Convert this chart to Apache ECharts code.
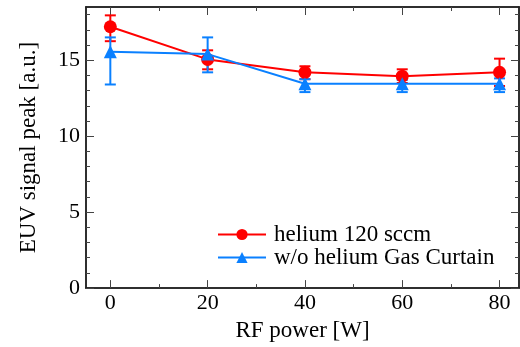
<!DOCTYPE html>
<html>
<head>
<meta charset="utf-8">
<script src="https://cdn.jsdelivr.net/npm/echarts@6/dist/echarts.min.js"></script>
<style>html,body{margin:0;padding:0;background:#fff;}#c{width:520px;height:347px;}</style>
</head>
<body>
<div id="c"></div>
<script>
const rfPower = [0, 20, 40, 60, 80];
const heliumY = [17.2, 15.05, 14.2, 13.95, 14.2];
const heliumLow = [16.25, 14.4, 13.75, 13.5, 13.3];
const heliumHigh = [17.95, 15.65, 14.6, 14.4, 15.1];
const noGasY = [15.55, 15.4, 13.45, 13.45, 13.45];
const noGasLow = [13.4, 14.2, 12.9, 12.9, 12.9];
const noGasHigh = [16.5, 16.5, 13.75, 13.7, 13.8];
const xMajor = [0, 20, 40, 60, 80];
const xMinor = [10, 30, 50, 70];
const yMajor = [0, 5, 10, 15];
const yMinor = [1, 2, 3, 4, 6, 7, 8, 9, 11, 12, 13, 14, 16, 17, 18];
const seriesNames = ['helium 120 sccm', 'w/o helium Gas Curtain'];

const RED = '#ff0000', BLUE = '#0a80ff';
const FONT = '"Liberation Serif", "Times New Roman", serif';
const XMIN = -5, XMAX = 84, YMIN = 0, YMAX = 18.5;

function xAx(pos, vals, len, labels, extra) {
  return Object.assign({
    type: 'value', min: XMIN, max: XMAX, position: pos,
    axisLine: { show: true, onZero: false, lineStyle: { color: '#222', width: 1.5 } },
    axisTick: { show: true, inside: true, length: len, customValues: vals, lineStyle: { color: '#444', width: 1 } },
    axisLabel: labels ? { show: true, customValues: vals, fontFamily: FONT, fontSize: 22, color: '#000', margin: 4 } : { show: false },
    splitLine: { show: false }
  }, extra || {});
}
function yAx(pos, vals, len, labels, extra) {
  return Object.assign({
    type: 'value', min: YMIN, max: YMAX, position: pos,
    axisLine: { show: true, onZero: false, lineStyle: { color: '#222', width: 1.5 } },
    axisTick: { show: true, inside: true, length: len, customValues: vals, lineStyle: { color: '#444', width: 1 } },
    axisLabel: labels ? { show: true, customValues: vals, fontFamily: FONT, fontSize: 22, color: '#000', margin: 6 } : { show: false },
    splitLine: { show: false }
  }, extra || {});
}

function errSeries(low, high, color, z) {
  return {
    type: 'custom', xAxisIndex: 0, yAxisIndex: 0, z: z,
    data: rfPower.map((x, i) => [x, low[i], high[i]]),
    encode: { x: 0, y: [1, 2] },
    renderItem: function (params, api) {
      const x = api.value(0);
      const p1 = api.coord([x, api.value(1)]);
      const p2 = api.coord([x, api.value(2)]);
      const w = 5.5;
      const st = { stroke: color, lineWidth: 2 };
      return {
        type: 'group', children: [
          { type: 'line', shape: { x1: p1[0], y1: p1[1], x2: p2[0], y2: p2[1] }, style: st },
          { type: 'line', shape: { x1: p1[0] - w, y1: p1[1], x2: p1[0] + w, y2: p1[1] }, style: st },
          { type: 'line', shape: { x1: p2[0] - w, y1: p2[1], x2: p2[0] + w, y2: p2[1] }, style: st }
        ]
      };
    }
  };
}

const chart = echarts.init(document.getElementById('c'), null, { renderer: 'canvas' });
chart.setOption({
  animation: false,
  backgroundColor: '#fff',
  grid: { left: 86, top: 7, width: 433, height: 282 },
  xAxis: [
    xAx('bottom', xMajor, 8, true, { name: 'RF power [W]', nameLocation: 'middle', nameGap: 28,
      nameTextStyle: { fontFamily: FONT, fontSize: 23, color: '#000' } }),
    xAx('bottom', xMinor, 4, false),
    xAx('top', xMajor, 8, false),
    xAx('top', xMinor, 4, false)
  ],
  yAxis: [
    yAx('left', yMajor, 8, true, { name: 'EUV signal peak [a.u.]', nameLocation: 'middle', nameGap: 46,
      nameTextStyle: { fontFamily: FONT, fontSize: 23, color: '#000' } }),
    yAx('left', yMinor, 4, false),
    yAx('right', yMajor, 8, false),
    yAx('right', yMinor, 4, false)
  ],
  legend: {
    data: seriesNames, orient: 'vertical', left: 212, top: 218,
    itemWidth: 48, itemHeight: 14, itemGap: 0,
    textStyle: { fontFamily: FONT, fontSize: 23, color: '#000', lineHeight: 18, padding: [0, 0, 0, 3] }
  },
  series: [
    errSeries(heliumLow, heliumHigh, RED, 2),
    errSeries(noGasLow, noGasHigh, BLUE, 3),
    {
      name: seriesNames[0], type: 'line', xAxisIndex: 0, yAxisIndex: 0, z: 4,
      data: rfPower.map((x, i) => [x, heliumY[i]]),
      symbol: 'circle', symbolSize: 13,
      lineStyle: { color: RED, width: 2 }, itemStyle: { color: RED }
    },
    {
      name: seriesNames[1], type: 'line', xAxisIndex: 0, yAxisIndex: 0, z: 5,
      data: rfPower.map((x, i) => [x, noGasY[i]]),
      symbol: 'triangle', symbolSize: 13,
      lineStyle: { color: BLUE, width: 2 }, itemStyle: { color: BLUE }
    }
  ]
});
</script>
</body>
</html>
